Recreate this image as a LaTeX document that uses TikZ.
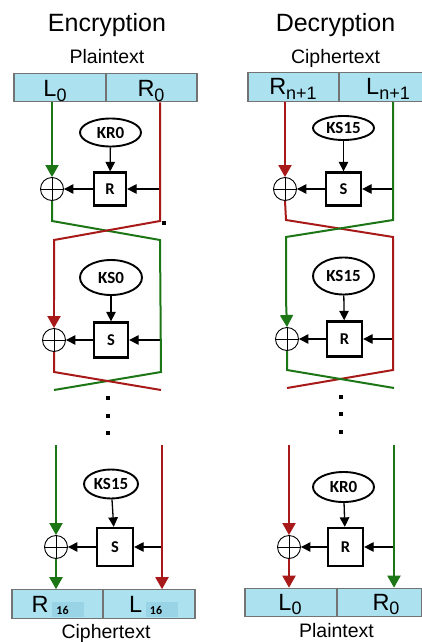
\documentclass[tikz,border=0pt]{standalone}
\usepackage{fontspec}
\setmainfont{Liberation Sans}
\newfontfamily\keyfont{Carlito}
\usetikzlibrary{arrows.meta,shapes.geometric}

\definecolor{wireG}{RGB}{28,118,22}
\definecolor{wireR}{RGB}{168,26,26}
\definecolor{cellfill}{RGB}{172,226,240}
\definecolor{subfill}{RGB}{152,212,230}

% lowered index in the half-block labels
\newcommand\lowidx[1]{\raisebox{-4.5pt}{\fontsize{18}{18}\selectfont #1}}
% round index on a shaded tag (output block)
\newcommand\tagidx[1]{\raisebox{-5pt}{\setlength\fboxsep{0pt}\colorbox{subfill}{\makebox[32pt][l]{\rule{0pt}{15pt}\hspace{4pt}\raisebox{3pt}{\keyfont\bfseries\fontsize{12}{12}\selectfont #1}}}}}

\tikzset{
  title/.style={anchor=base, inner sep=0, font=\fontsize{25}{25}\selectfont},
  caption/.style={anchor=base, inner sep=0, font=\fontsize{19.5}{20}\selectfont},
  cell/.style={draw=black!55, line width=1.1pt, fill=cellfill, minimum height=28.5pt, inner sep=0},
  celltext/.style={anchor=base, inner sep=0, font=\fontsize{23.5}{24}\selectfont},
  keynode/.style={ellipse, draw, line width=1.9pt, inner sep=0,
    font=\keyfont\bfseries\fontsize{17}{17}\selectfont},
  fbox/.style={draw, line width=2.3pt, inner sep=0, fill=white,
    font=\keyfont\bfseries\fontsize{16.5}{16.5}\selectfont},
  xor/.style={circle, draw, line width=0.9pt, minimum size=23pt, inner sep=0,
    path picture={\draw[line width=0.9pt]
      (path picture bounding box.north) -- (path picture bounding box.south)
      (path picture bounding box.west) -- (path picture bounding box.east);}},
  gw/.style={draw=wireG, line width=2pt},
  rw/.style={draw=wireR, line width=2pt},
  bigtipG/.style={-{Triangle[length=12pt,width=13pt,fill=wireG]}},
  bigtipR/.style={-{Triangle[length=12pt,width=13pt,fill=wireR]}},
  feed/.style={draw, line width=1.3pt, -{Triangle[length=9.5pt,width=9.5pt]}},
  dotmark/.style={fill=black, minimum size=4pt, inner sep=0},
}

\begin{document}
\begin{tikzpicture}[x=1pt,y=-1pt]
\useasboundingbox (0,0) rectangle (422,642);

% ---------------- headings ----------------
\node[title] (encT) at (107,31.5) {Encryption};
\node[title] (decT) at (335.5,31.5) {Decryption};
\node[caption] (ptTop) at (107,63.3) {Plaintext};
\node[caption] (ctTop) at (335.5,63.3) {Ciphertext};

% ---------------- input / output blocks ----------------
\node[cell, minimum width=92pt] (eL) at (60,87.5) {};
\node[cell, minimum width=91pt] (eR) at (151.5,87.5) {};
\node[celltext] at (55,96.5) {L\lowidx{0}};
\node[celltext] at (151,96.5) {R\lowidx{0}};

\node[cell, minimum width=91pt] (dR) at (293.5,87) {};
\node[cell, minimum width=84pt] (dL) at (381,87) {};
\node[celltext] at (293,94.5) {R\lowidx{n+1}};
\node[celltext] at (388,94.5) {L\lowidx{n+1}};

\node[cell, minimum width=91pt] (oR) at (57.5,604) {};
\node[cell, minimum width=92pt] (oL) at (149,604) {};
\node[celltext] at (58,612) {R\,\tagidx{16}};
\node[celltext] at (153.5,612) {L\,\tagidx{16}};

\node[cell, minimum width=92pt] (pL) at (291,602.5) {};
\node[cell, minimum width=85pt] (pR) at (379.5,602.5) {};
\node[celltext] at (290,610) {L\lowidx{0}};
\node[celltext] at (386,610) {R\lowidx{0}};

\node[caption] (ctBot) at (106,638) {Ciphertext};
\node[caption] (ptBot) at (336.5,637) {Plaintext};

% ---------------- encryption rounds ----------------
\node[keynode, minimum width=61pt, minimum height=28pt] (k1) at (110.5,132.5) {KR0};
\node[fbox, minimum width=32pt, minimum height=33pt] (f1) at (110,189) {R};
\node[xor] (x1) at (52,189) {};
\coordinate (t1) at (160,189);

\node[keynode, minimum width=62pt, minimum height=35pt] (k2) at (111,277.5) {KS0};
\node[fbox, minimum width=34pt, minimum height=35pt] (f2) at (111,340) {S};
\node[xor] (x2) at (54,340) {};
\coordinate (t2) at (161,340);

\node[keynode, minimum width=54pt, minimum height=29pt] (k3) at (111,484) {KS15};
\node[fbox, minimum width=36pt, minimum height=38pt] (f3) at (115,547) {S};
\node[xor] (x3) at (56,547) {};
\coordinate (t3) at (162,547);

% ---------------- decryption rounds ----------------
\node[keynode, minimum width=61pt, minimum height=24pt] (k4) at (343.5,128) {KS15};
\node[fbox, minimum width=35pt, minimum height=33pt] (f4) at (343.5,189) {S};
\node[xor] (x4) at (285,189) {};
\coordinate (t4) at (393,189);

\node[keynode, minimum width=61pt, minimum height=37pt] (k5) at (343.5,276) {KS15};
\node[fbox, minimum width=35pt, minimum height=35pt] (f5) at (344.5,339) {R};
\node[xor] (x5) at (287,339) {};
\coordinate (t5) at (393,339);

\node[keynode, minimum width=61pt, minimum height=30pt] (k6) at (343.5,487) {KR0};
\node[fbox, minimum width=35pt, minimum height=38pt] (f6) at (345.5,547) {R};
\node[xor] (x6) at (289,547) {};
\coordinate (t6) at (394,547);

% ---------------- black feed arrows ----------------
\foreach \k/\f/\x/\t in {k1/f1/x1/t1, k2/f2/x2/t2, k3/f3/x3/t3,
                         k4/f4/x4/t4, k5/f5/x5/t5, k6/f6/x6/t6} {
  \draw[feed] (\k) -- (\f);
  \draw[feed] (\t) -- (\f);
  \draw[feed] (\f) -- (\x);
}

% ---------------- encryption wires ----------------
\draw[gw, bigtipG] (x1 |- eL.south) -- (x1.north);
\draw[gw] (x1.south) -- (52,221) -- (160,240) -- (161,372) -- (54,390);
\draw[rw] (t1 |- eR.south) -- (160,221) -- (54,240) -- (54,300);
\draw[rw, bigtipR] (54,300) -- (x2.north);
\draw[rw] (x2.south) -- (54,372) -- (161,390);

\draw[gw, bigtipG] (56,445) -- (x3.north);
\draw[gw, bigtipG] (x3.south) -- (x3 |- oR.north);
\draw[rw, bigtipR] (162,445) -- (t3 |- oL.north);

% ---------------- decryption wires ----------------
\draw[rw, bigtipR] (x4 |- dR.south) -- (x4.north);
\draw[rw] (x4.south) -- (286,220) -- (393,237) -- (393,370) -- (287,388);
\draw[gw] (t4 |- dL.south) -- (393,220) -- (286,237) -- (286,300);
\draw[gw, bigtipG] (286,300) -- (x5.north);
\draw[gw] (x5.south) -- (287,370) -- (394,388);

\draw[rw, bigtipR] (289,445) -- (x6.north);
\draw[rw, bigtipR] (x6.south) -- (x6 |- pL.north);
\draw[gw, bigtipG] (394,445) -- (t6 |- pR.north);

% ---------------- ellipsis marks ----------------
\node[dotmark] (e1) at (108,398) {};
\node[dotmark] (e2) at (108,416) {};
\node[dotmark] (e3) at (108,433) {};
\node[dotmark] (d1) at (341,397) {};
\node[dotmark] (d2) at (341,414) {};
\node[dotmark] (d3) at (341,432) {};
\node[dotmark] (stray) at (164,223) {};
\end{tikzpicture}
\end{document}
